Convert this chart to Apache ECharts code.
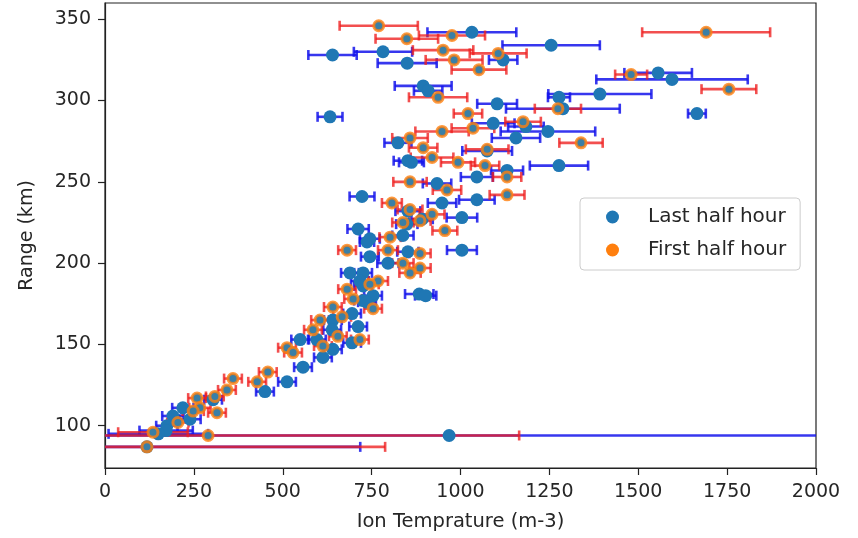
<!DOCTYPE html>
<html>
<head>
<meta charset="utf-8">
<script src="https://cdn.jsdelivr.net/npm/echarts@6/dist/echarts.min.js"></script>
<style>html,body{margin:0;padding:0;background:#fff}#c{width:858px;height:538px}</style>
</head>
<body>
<div id="c"></div>
<script>
// ---- Data ----
const xTicks = [0, 250, 500, 750, 1000, 1250, 1500, 1750, 2000];
const yTicks = [100, 150, 200, 250, 300, 350];

// Last half hour: ion temperature, range (km), temperature error
const lastX = [1032,1255,640,782,850,1120,1556,1595,895,909,1392,1277,1288,1103,1665,633,1092,1184,1246,1156,824,852,862,1075,1277,1131,1046,934,723,948,1046,852,1004,892,849,712,838,745,737,1004,852,745,796,726,689,717,726,884,902,754,726,737,695,641,712,639,695,549,596,641,613,557,512,450,304,219,239,191,174,172,150,968,118];
const lastY = [342,334,328,330,323,325,317,313,309,306,304,302,295,298,292,290,286,284,281,277,274,263,262,269,260,257,253,249,241,237,239,232,228,227,224,221,217,215,213,208,207,204,200,194,194,189,186,181,180,180,177,176,169,165,161,159,151,153,153,147,142,136,127,121,116,111,104,106,100,97,95,94,87];
const lastErr = [125,137,68,82,83,40,95,213,80,40,145,31,160,56,25,35,60,50,133,68,38,40,35,70,82,45,45,40,35,40,50,35,43,30,30,30,30,28,20,42,30,25,30,25,25,25,25,40,30,25,25,25,25,25,25,25,25,25,25,25,25,25,25,25,25,30,30,30,30,75,140,1150,600];

// First half hour
const firstX = [770,849,976,951,982,1106,1052,1691,1480,1755,1339,1274,937,1021,1035,948,1176,858,895,920,993,1075,1069,1131,858,962,1131,807,920,858,886,956,838,802,681,796,886,838,886,858,768,745,681,698,754,641,667,605,585,655,717,613,512,529,458,428,360,343,309,259,267,248,315,205,135,290,118];
const firstY = [346,338,340,331,325,329,319,342,316,307,274,295,302,292,283,281,287,277,271,265,262,270,260,253,250,245,242,237,230,233,226,220,225,216,208,208,206,200,197,194,189,187,184,178,172,173,167,165,159,155,153,149,148,145,133,127,129,122,118,117,111,109,108,102,96,94,87];
const firstErr = [110,88,93,85,80,80,77,180,45,77,61,65,82,40,60,75,50,50,40,60,48,60,40,40,47,40,49,28,35,35,30,35,30,30,25,28,30,30,30,30,28,25,25,25,25,25,25,25,25,25,25,25,25,25,25,25,25,25,25,25,30,30,25,30,98,875,670];

// ---- Build series data ----
const lastPts = lastX.map((x, i) => [x, lastY[i]]);
const firstPts = firstX.map((x, i) => [x, firstY[i]]);
const lastBars = lastX.map((x, i) => [x - lastErr[i], x + lastErr[i], lastY[i]]);
const firstBars = firstX.map((x, i) => [x - firstErr[i], x + firstErr[i], firstY[i]]);

function errRenderer(color) {
  return function (params, api) {
    const y = api.value(2);
    const a = api.coord([api.value(0), y]);
    const b = api.coord([api.value(1), y]);
    const h = 5;
    const st = { stroke: color, lineWidth: 2.6 };
    return {
      type: 'group',
      children: [
        { type: 'line', shape: { x1: a[0], y1: a[1], x2: b[0], y2: b[1] }, style: st },
        { type: 'line', shape: { x1: a[0], y1: a[1] - h, x2: a[0], y2: a[1] + h }, style: st },
        { type: 'line', shape: { x1: b[0], y1: b[1] - h, x2: b[0], y2: b[1] + h }, style: st }
      ]
    };
  };
}

const FONT = 'DejaVu Sans';
const plain = v => String(v);
const chart = echarts.init(document.getElementById('c'), null, { renderer: 'canvas' });
chart.setOption({
  animation: false,
  backgroundColor: '#fff',
  grid: { left: 105, right: 42, top: 3, bottom: 70, show: true, borderColor: '#222', borderWidth: 1.2, backgroundColor: 'transparent' },
  xAxis: {
    type: 'value', min: 0, max: 2000, interval: 250,
    name: 'Ion Temprature (m-3)', nameLocation: 'middle', nameGap: 44,
    nameTextStyle: { fontFamily: FONT, fontSize: 19.5, color: '#262626' },
    axisLine: { show: true, lineStyle: { color: '#222', width: 1.2 } },
    axisTick: { show: true, length: 7, inside: false, lineStyle: { color: '#222', width: 1.2 } },
    axisLabel: { fontFamily: FONT, fontSize: 19, color: '#262626', margin: 15,
      customValues: xTicks, formatter: plain },
    splitLine: { show: false }
  },
  yAxis: {
    type: 'value', min: 74, max: 360,
    name: 'Range (km)', nameLocation: 'middle', nameGap: 68, nameRotate: 90,
    nameTextStyle: { fontFamily: FONT, fontSize: 19, color: '#262626' },
    axisLine: { show: true, lineStyle: { color: '#222', width: 1.2 } },
    axisTick: { show: true, length: 7, lineStyle: { color: '#222', width: 1.2 }, customValues: yTicks },
    axisLabel: { fontFamily: FONT, fontSize: 19, color: '#262626', margin: 14, customValues: yTicks, formatter: plain },
    splitLine: { show: false }
  },
  legend: {
    orient: 'vertical', left: 580, top: 198,
    backgroundColor: 'rgba(255,255,255,0.85)', borderColor: '#cccccc', borderWidth: 1, borderRadius: 4,
    padding: [9, 14, 10, 26], itemGap: 13, itemWidth: 13, itemHeight: 13,
    textStyle: { fontFamily: FONT, fontSize: 20, color: '#262626', padding: [0, 0, 0, 24] },
    data: [
      { name: 'Last half hour', icon: 'circle', itemStyle: { color: '#1f77b4', borderWidth: 0 } },
      { name: 'First half hour', icon: 'circle', itemStyle: { color: '#ff7f0e', borderWidth: 0 } }
    ]
  },
  series: [
    { name: 'lastErr', type: 'custom', renderItem: errRenderer('rgba(20,20,235,0.85)'), data: lastBars,
      encode: { x: [0, 1], y: 2 }, clip: true, z: 1, silent: true },
    { name: 'firstErr', type: 'custom', renderItem: errRenderer('rgba(238,30,30,0.78)'), data: firstBars,
      encode: { x: [0, 1], y: 2 }, clip: true, z: 2, silent: true },
    { name: 'Last half hour', type: 'scatter', data: lastPts, symbol: 'circle', symbolSize: 13,
      itemStyle: { color: '#1f77b4', opacity: 1 }, z: 3 },
    { name: 'First half hour', type: 'scatter', data: firstPts, symbol: 'circle', symbolSize: 10,
      itemStyle: { color: '#3a7fa6', borderColor: 'rgba(255,127,14,0.8)', borderWidth: 3, opacity: 1 }, z: 4 }
  ]
});
</script>
</body>
</html>
